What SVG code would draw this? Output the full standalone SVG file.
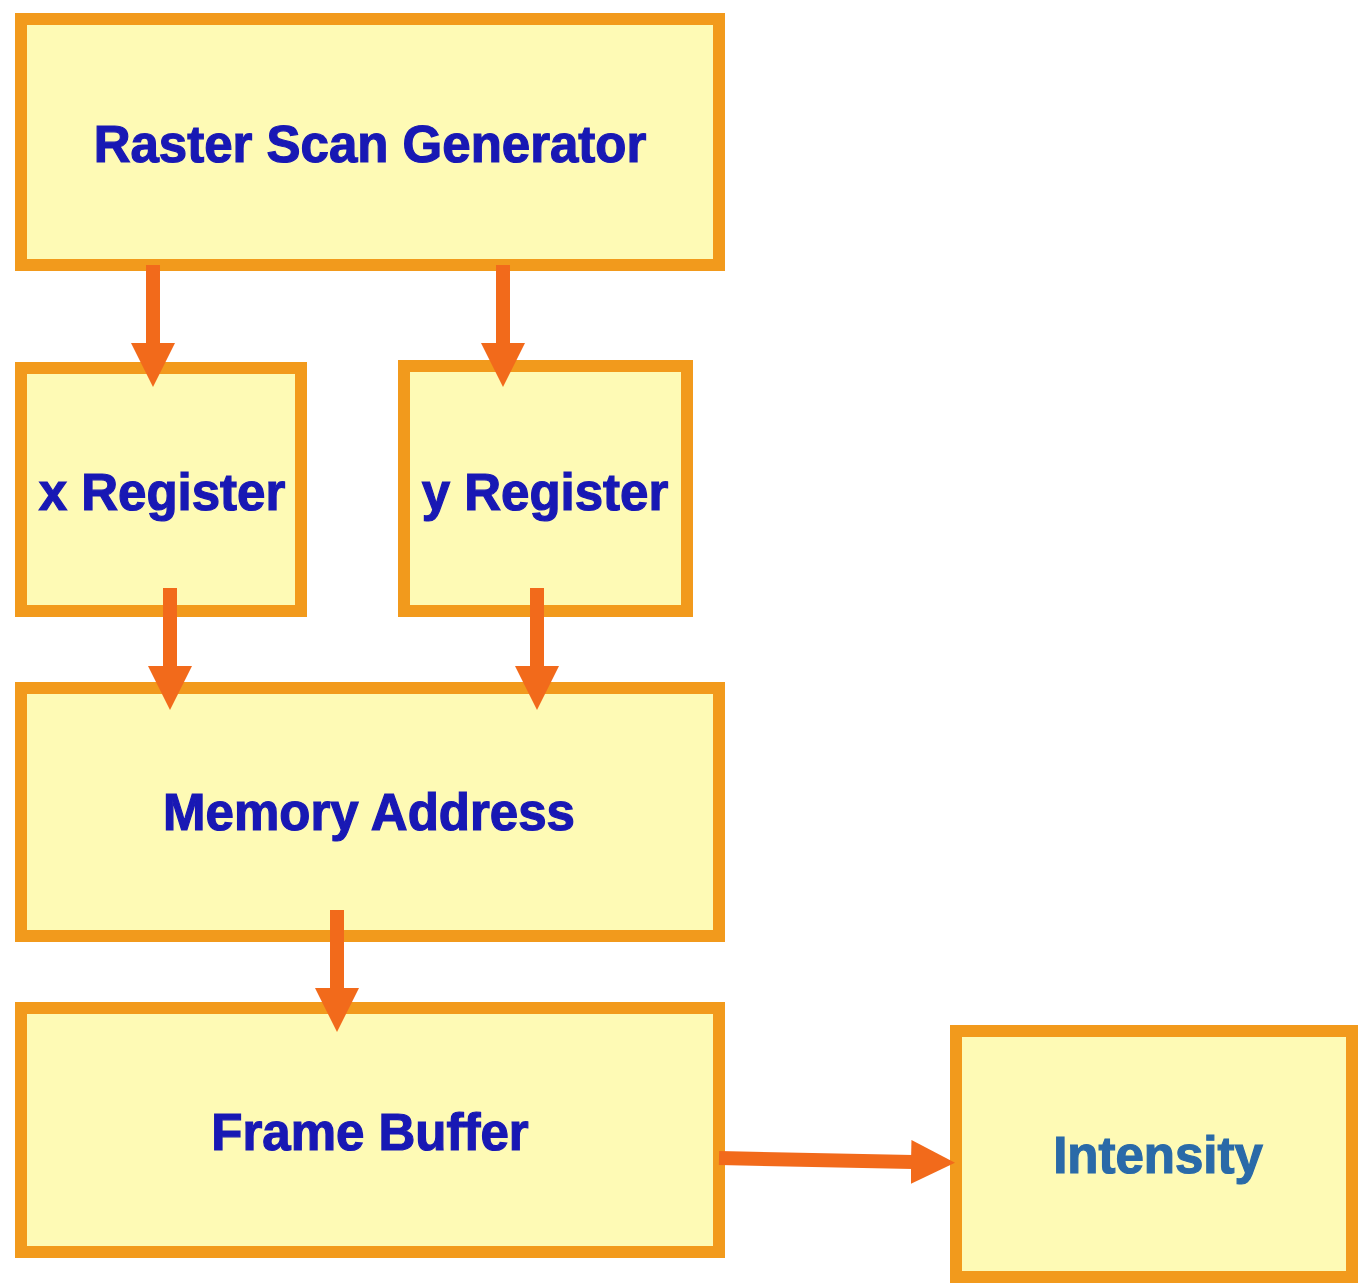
<svg xmlns="http://www.w3.org/2000/svg" width="1359" height="1286" viewBox="0 0 1359 1286">
  <style>
    .box { fill: #fefab5; stroke: #f29a1c; stroke-width: 12; }
    .lbl { font-family: "Liberation Sans", Arial, sans-serif; font-weight: bold; font-size: 51px; fill: #1818b4; stroke: #1818b4; stroke-width: 1.2; text-anchor: middle; }
    .lbl.alt { fill: #2a6aa8; stroke: #2a6aa8; }
    .wire { stroke: #f26a1b; stroke-width: 14; fill: none; marker-end: url(#head); }
  </style>
  <defs>
    <marker id="head" markerUnits="userSpaceOnUse" markerWidth="46" markerHeight="46" refX="2" refY="22" orient="auto">
      <path d="M0,0 L44,22 L0,44 Z" fill="#f26a1b"/>
    </marker>
  </defs>
  <rect width="1359" height="1286" fill="#ffffff"/>

  <g id="raster-scan-generator">
    <rect class="box" x="21" y="19" width="698" height="246"/>
    <text class="lbl" x="370" y="162">Raster Scan Generator</text>
  </g>
  <g id="x-register">
    <rect class="box" x="21" y="368" width="280" height="243"/>
    <text class="lbl" x="162" y="510">x Register</text>
  </g>
  <g id="y-register">
    <rect class="box" x="404" y="366" width="283" height="245"/>
    <text class="lbl" x="545" y="510">y Register</text>
  </g>
  <g id="memory-address">
    <rect class="box" x="21" y="688" width="698" height="248"/>
    <text class="lbl" x="369" y="830">Memory Address</text>
  </g>
  <g id="frame-buffer">
    <rect class="box" x="21" y="1008" width="698" height="244"/>
    <text class="lbl" x="370" y="1150">Frame Buffer</text>
  </g>
  <g id="intensity">
    <rect class="box" x="956" y="1031" width="396" height="246"/>
    <text class="lbl alt" x="1158" y="1173">Intensity</text>
  </g>

  <g id="connectors">
    <line class="wire" x1="153" y1="265" x2="153" y2="345"/>
    <line class="wire" x1="503" y1="265" x2="503" y2="345"/>
    <line class="wire" x1="170" y1="588" x2="170" y2="668"/>
    <line class="wire" x1="537" y1="588" x2="537" y2="668"/>
    <line class="wire" x1="337" y1="910" x2="337" y2="990"/>
    <line class="wire" x1="719" y1="1158" x2="913" y2="1162"/>
  </g>
</svg>
